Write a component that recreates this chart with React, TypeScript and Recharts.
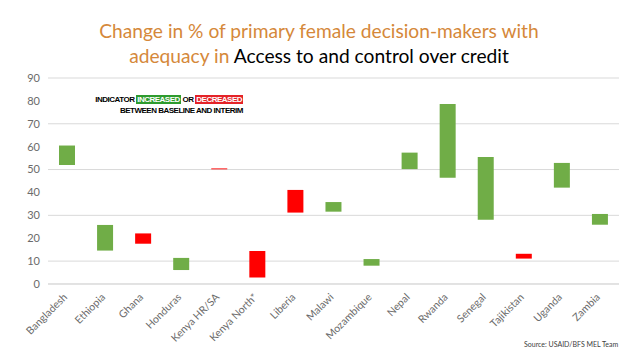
import React from "react";
import { BarChart, Bar, XAxis, YAxis, CartesianGrid, Cell } from "recharts";

const categories = ["Bangladesh", "Ethiopia", "Ghana", "Honduras", "Kenya HR/SA", "Kenya North*", "Liberia", "Malawi", "Mozambique", "Nepal", "Rwanda", "Senegal", "Tajikistan", "Uganda", "Zambia"];
const baseline = [52, 14.6, 22.1, 6.1, 50.5, 14.4, 41.1, 31.6, 8.0, 50.2, 46.4, 28.1, 13.2, 42.1, 25.9];
const interim = [60.5, 25.8, 17.6, 11.4, 50.1, 2.8, 31.2, 35.8, 10.9, 57.4, 78.6, 55.5, 11.1, 52.9, 30.6];
const yTicks = [0, 10, 20, 30, 40, 50, 60, 70, 80, 90];

const GREEN = "#70AD47";
const RED = "#FF0000";

const data = categories.map((name, i) => ({
  name,
  range: [Math.min(baseline[i], interim[i]), Math.max(baseline[i], interim[i])],
  inc: interim[i] >= baseline[i],
}));

const XTick = (props: any) => {
  const { x, y, payload } = props;
  return (
    <g transform={`translate(${x - 2},${y + 3})`}>
      <text transform="rotate(-45)" textAnchor="end" fill="#6B6B6B" fontSize={10.5} fontFamily="Lato, 'Open Sans', sans-serif" dy={4}>
        {payload.value}
      </text>
    </g>
  );
};

export default function App() {
  return (
    <div style={{ position: "absolute", left: 0, top: 0, width: 638, height: 359, background: "#fff", fontFamily: "Lato, sans-serif" }}>
      <div style={{ position: "absolute", left: 0, top: 18, width: 638, textAlign: "center", fontSize: 19.2, lineHeight: "25px", color: "#D5883A" }}>
        Change in % of primary female decision-makers with
        <br />
        adequacy in <span style={{ color: "#000" }}>Access to and control over credit</span>
      </div>
      <BarChart width={638} height={359} data={data} margin={{ top: 78, right: 19, bottom: 0, left: 8 }}>
        <CartesianGrid vertical={false} stroke="#D9D9D9" />
        <XAxis dataKey="name" interval={0} height={75} tickLine={false} axisLine={{ stroke: "#D9D9D9" }} tick={<XTick />} />
        <YAxis domain={[0, 90]} ticks={yTicks} width={40} tickLine={false} axisLine={false} tick={{ fill: "#6B6B6B", fontSize: 11, fontFamily: "Lato, sans-serif" }} />
        <Bar dataKey="range" barSize={16} isAnimationActive={false}>
          {data.map((d, i) => (
            <Cell key={i} fill={d.inc ? GREEN : RED} />
          ))}
        </Bar>
      </BarChart>
      <div style={{ position: "absolute", right: 638 - 243, top: 94, textAlign: "right", fontFamily: "'Liberation Sans Narrow', 'Liberation Sans', sans-serif", fontWeight: "bold", fontSize: 8, lineHeight: "11px", color: "#000", letterSpacing: -0.5, whiteSpace: "nowrap" }}>
        INDICATOR <span style={{ background: "#2E9B2E", color: "#fff", padding: "0 1px" }}>INCREASED</span> OR{" "}
        <span style={{ background: "#E42328", color: "#fff", padding: "0 1px" }}>DECREASED</span>
        <br />
        BETWEEN BASELINE AND INTERIM
      </div>
      <div style={{ position: "absolute", left: 524, top: 340, fontSize: 7, color: "#404040", fontFamily: "Lato, sans-serif" }}>
        Source: USAID/BFS MEL Team
      </div>
    </div>
  );
}
